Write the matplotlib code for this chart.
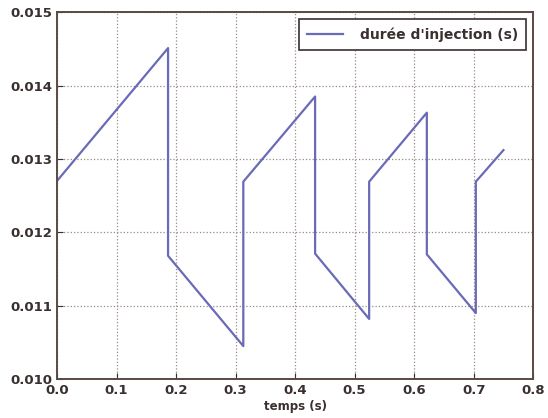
import numpy as np
import matplotlib
matplotlib.use('Agg')
import matplotlib.pyplot as plt

# points du signal (temps en s, durée d'injection en s)
t = [0.0, 0.1866, 0.1866, 0.313, 0.313, 0.4336, 0.4336, 0.5244, 0.5244,
     0.6213, 0.6213, 0.7036, 0.7036, 0.750]
duree = [0.0127, 0.01451, 0.01168, 0.01045, 0.01269, 0.01385, 0.01171,
         0.01082, 0.01269, 0.01363, 0.0117, 0.0109, 0.01269, 0.01312]

xticks = [0.0, 0.1, 0.2, 0.3, 0.4, 0.5, 0.6, 0.7, 0.8]
yticks = [0.010, 0.011, 0.012, 0.013, 0.014, 0.015]

fig = plt.figure(figsize=(5.48, 4.18), dpi=100)
ax = fig.add_axes([0.104, 0.093, 0.869, 0.878])

ax.plot(t, duree, color='#6a6ab8', lw=1.6, label="durée d'injection (s)")

ax.set_xlim(0, 0.8)
ax.set_ylim(0.010, 0.015)
ax.set_xticks(xticks)
ax.set_yticks(yticks)
ax.set_xticklabels(['%.1f' % v for v in xticks])
ax.set_yticklabels(['%.3f' % v for v in yticks])
ax.tick_params(labelsize=9.5, colors='#3a3030', direction='in', length=4)
for lab in ax.get_xticklabels() + ax.get_yticklabels():
    lab.set_fontweight('bold')
ax.grid(True, linestyle=':', color='#9a8a80', lw=0.9)
for s in ax.spines.values():
    s.set_color('#5a4a44')
    s.set_linewidth(1.4)

ax.set_xlabel('temps (s)', fontsize=8.5, fontweight='bold', color='#3a3030', labelpad=2)

leg = ax.legend(loc='upper right', fontsize=10, fancybox=False, framealpha=1,
                borderpad=0.6, handlelength=2.6, handletextpad=1.2,
                prop={'size': 10, 'weight': 'bold'})
leg.get_frame().set_edgecolor('#3a3030')
leg.get_frame().set_linewidth(1.2)
for txt in leg.get_texts():
    txt.set_color('#3a3030')

fig.savefig('out.png', dpi=100)
